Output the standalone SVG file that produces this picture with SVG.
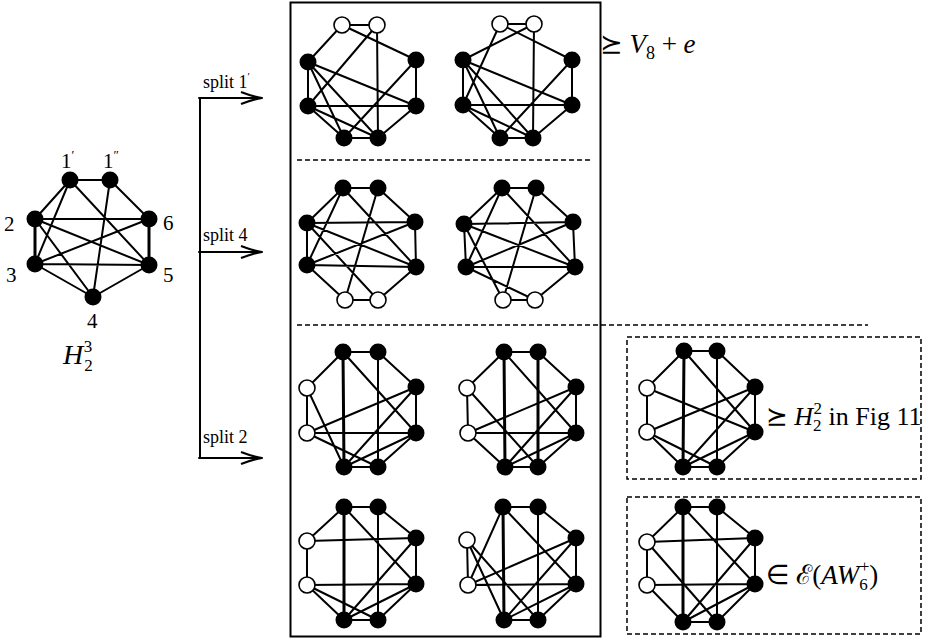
<svg xmlns="http://www.w3.org/2000/svg" width="929" height="641" viewBox="0 0 929 641">
<defs>
<style>
.e{stroke:#000;stroke-width:2;fill:none;stroke-linecap:round}
.k{stroke-width:3}
.b{fill:#000}
.w{fill:#fff;stroke:#000;stroke-width:1.6}
text{font-family:"Liberation Serif","DejaVu Serif",serif;fill:#000}
.lab{font-size:21px}
.sm{font-size:18px}
.rel{font-family:"DejaVu Sans",sans-serif}
.dash{stroke:#000;stroke-width:1.5;fill:none;stroke-dasharray:5 3}
.ah{stroke:#000;stroke-width:2;fill:none}
</style>
<marker id="arr" markerUnits="userSpaceOnUse" markerWidth="30" markerHeight="16" refX="26" refY="8" orient="auto" overflow="visible">
<path class="ah" d="M5,2 Q18,7 26,8 Q18,9 5,14"/>
</marker>
</defs>
<rect width="929" height="641" fill="#fff"/>

<g id="H23">
<path class="e" d="M70,180L110,180M70,180L35,219M70,180L35,264M70,180L149,265M110,180L149,219M110,180L93,297M35,219L149,219M35,219L149,265M35,219L93,297M35,264L149,219M35,264L149,265M35,264L93,297M93,297L149,265"/>
<path class="e k" d="M35,219L35,264M149,219L149,265"/>
<g class="b"><circle cx="70" cy="180" r="8.5"/><circle cx="110" cy="180" r="8.5"/><circle cx="35" cy="219" r="8.5"/><circle cx="149" cy="219" r="8.5"/><circle cx="35" cy="264" r="8.5"/><circle cx="149" cy="265" r="8.5"/><circle cx="93" cy="297" r="8.5"/></g>
<text class="lab" x="61" y="168">1<tspan font-size="13" dy="-9">′</tspan></text>
<text class="lab" x="103" y="168">1<tspan font-size="13" dy="-9">″</tspan></text>
<text class="lab" x="4" y="231">2</text>
<text class="lab" x="163" y="230">6</text>
<text class="lab" x="6" y="282">3</text>
<text class="lab" x="163" y="282">5</text>
<text class="lab" x="87" y="328">4</text>
<text x="63" y="364" font-size="28" font-style="italic">H<tspan font-size="17" font-style="normal" dx="1" dy="7">2</tspan><tspan font-size="17" font-style="normal" dx="-9" dy="-19">3</tspan></text>
</g>

<g id="connectors">
<path class="e" d="M200,98L200,458" stroke-linecap="butt"/>
<path class="e" d="M199,98L262,98" marker-end="url(#arr)"/>
<path class="e" d="M199,252L262,252" marker-end="url(#arr)"/>
<path class="e" d="M199,458L262,458" marker-end="url(#arr)"/>
</g>
<g id="arrow-labels">
<text class="sm" x="203" y="88">split 1<tspan font-size="11" dy="-8">′</tspan></text>
<text class="sm" x="203" y="241">split 4</text>
<text class="sm" x="203" y="443">split 2</text>
</g>

<rect x="290.5" y="2.5" width="310" height="634" fill="none" stroke="#000" stroke-width="2"/>
<path class="dash" d="M297,160H590"/>
<path class="dash" d="M297,325H868"/>
<rect class="dash" x="627" y="337" width="294" height="142"/>
<rect class="dash" x="627" y="497" width="294" height="137"/>

<g id="g1">
<path class="e" d="M342,25L377,25M342,25L308,62M342,25L416,60M377,25L308,106M377,25L378,138M308,62L308,106M308,62L416,106M308,62L344,138M308,62L378,138M308,106L416,106M308,106L344,138M308,106L378,138M416,60L416,106M416,60L344,138M416,106L378,138M344,138L378,138"/>
<g class="b"><circle cx="308" cy="62" r="8.5"/><circle cx="416" cy="60" r="8.5"/><circle cx="308" cy="106" r="8.5"/><circle cx="416" cy="106" r="8.5"/><circle cx="344" cy="138" r="8.5"/><circle cx="378" cy="138" r="8.5"/></g>
<circle class="w" cx="342" cy="25" r="8"/><circle class="w" cx="377" cy="25" r="8"/>
</g>

<g id="g2">
<path class="e" d="M500,24L534,24M500,24L463,105M500,24L572,60M534,24L463,60M534,24L533,138M463,60L463,105M463,60L572,105M463,60L500,138M463,60L533,138M463,105L572,105M463,105L500,138M463,105L533,138M572,60L572,105M572,60L500,138M572,105L533,138M500,138L533,138"/>
<g class="b"><circle cx="463" cy="60" r="8.5"/><circle cx="572" cy="60" r="8.5"/><circle cx="463" cy="105" r="8.5"/><circle cx="572" cy="105" r="8.5"/><circle cx="500" cy="138" r="8.5"/><circle cx="533" cy="138" r="8.5"/></g>
<circle class="w" cx="500" cy="24" r="8"/><circle class="w" cx="534" cy="24" r="8"/>
</g>

<text x="600" y="53" font-size="27"><tspan class="rel">⪰</tspan> <tspan font-style="italic">V</tspan><tspan font-size="18" dy="6">8</tspan><tspan dy="-6"> + </tspan><tspan font-style="italic">e</tspan></text>

<g id="g3">
<path class="e" d="M343,188L378,188M343,188L307,223M343,188L307,265M343,188L416,267M378,188L415,222M378,188L345,300M307,223L415,222M307,223L307,265M307,223L416,267M307,223L378,300M307,265L415,222M307,265L416,267M307,265L345,300M415,222L416,267M416,267L378,300M345,300L378,300"/>
<g class="b"><circle cx="343" cy="188" r="8.5"/><circle cx="378" cy="188" r="8.5"/><circle cx="307" cy="223" r="8.5"/><circle cx="415" cy="222" r="8.5"/><circle cx="307" cy="265" r="8.5"/><circle cx="416" cy="267" r="8.5"/></g>
<circle class="w" cx="345" cy="300" r="8"/><circle class="w" cx="378" cy="300" r="8"/>
</g>

<g id="g4">
<path class="e" d="M502,188L536,188M502,188L464,224M502,188L466,267M502,188L575,267M536,188L573,222M536,188L503,300M464,224L573,222M464,224L466,267M464,224L575,267M464,224L503,300M466,267L573,222M466,267L575,267M466,267L535,300M573,222L575,267M575,267L535,300M503,300L535,300"/>
<g class="b"><circle cx="502" cy="188" r="8.5"/><circle cx="536" cy="188" r="8.5"/><circle cx="464" cy="224" r="8.5"/><circle cx="573" cy="222" r="8.5"/><circle cx="466" cy="267" r="8.5"/><circle cx="575" cy="267" r="8.5"/></g>
<circle class="w" cx="503" cy="300" r="8"/><circle class="w" cx="535" cy="300" r="8"/>
</g>

<g id="g5">
<path class="e" d="M343,352L378,352M343,352L307,388M343,352L416,433M378,352L416,387M378,352L378,467M307,388L307,433M307,388L344,467M307,433L416,387M307,433L416,433M307,433L378,467M416,387L416,433M416,387L344,467M416,433L344,467M416,433L378,467M344,467L378,467"/>
<path class="e k" d="M343,352L344,467"/>
<g class="b"><circle cx="343" cy="352" r="8.5"/><circle cx="378" cy="352" r="8.5"/><circle cx="416" cy="387" r="8.5"/><circle cx="416" cy="433" r="8.5"/><circle cx="344" cy="467" r="8.5"/><circle cx="378" cy="467" r="8.5"/></g>
<circle class="w" cx="307" cy="388" r="8"/><circle class="w" cx="307" cy="433" r="8"/>
</g>

<g id="g6">
<path class="e" d="M504,352L538,352M504,352L467,388M504,352L576,433M538,352L576,387M467,388L468,433M467,388L538,467M468,433L576,387M468,433L576,433M468,433L505,467M576,387L576,433M576,387L505,467M576,433L505,467M576,433L538,467M505,467L538,467"/>
<path class="e k" d="M504,352L505,467M538,352L538,467"/>
<g class="b"><circle cx="504" cy="352" r="8.5"/><circle cx="538" cy="352" r="8.5"/><circle cx="576" cy="387" r="8.5"/><circle cx="576" cy="433" r="8.5"/><circle cx="505" cy="467" r="8.5"/><circle cx="538" cy="467" r="8.5"/></g>
<circle class="w" cx="467" cy="388" r="8"/><circle class="w" cx="468" cy="433" r="8"/>
</g>

<g id="g7">
<path class="e" d="M344,507L378,507M344,507L307,541M344,507L416,584M378,507L416,538M378,507L378,620M307,541L416,538M307,541L307,585M307,585L416,584M307,585L344,620M307,585L378,620M416,538L416,584M416,538L344,620M416,584L344,620M416,584L378,620M344,620L378,620"/>
<path class="e k" d="M344,507L344,620"/>
<g class="b"><circle cx="344" cy="507" r="8.5"/><circle cx="378" cy="507" r="8.5"/><circle cx="416" cy="538" r="8.5"/><circle cx="416" cy="584" r="8.5"/><circle cx="344" cy="620" r="8.5"/><circle cx="378" cy="620" r="8.5"/></g>
<circle class="w" cx="307" cy="541" r="8"/><circle class="w" cx="307" cy="585" r="8"/>
</g>

<g id="g8">
<path class="e" d="M503,507L538,507M503,507L468,585M503,507L576,584M538,507L576,538M538,507L538,620M467,540L468,585M467,540L504,620M467,540L538,620M468,585L576,538M468,585L576,584M576,538L576,584M576,538L504,620M576,584L504,620M576,584L538,620M504,620L538,620"/>
<path class="e k" d="M503,507L504,620"/>
<g class="b"><circle cx="503" cy="507" r="8.5"/><circle cx="538" cy="507" r="8.5"/><circle cx="576" cy="538" r="8.5"/><circle cx="576" cy="584" r="8.5"/><circle cx="504" cy="620" r="8.5"/><circle cx="538" cy="620" r="8.5"/></g>
<circle class="w" cx="467" cy="540" r="8"/><circle class="w" cx="468" cy="585" r="8"/>
</g>

<g id="g9">
<path class="e" d="M684,351L717,351M684,351L647,388M684,351L755,432M717,351L755,387M717,351L717,467M647,388L647,432M647,388L755,432M647,432L755,387M647,432L683,467M647,432L717,467M755,387L755,432M755,387L683,467M755,432L683,467M755,432L717,467M683,467L717,467"/>
<path class="e k" d="M684,351L683,467"/>
<g class="b"><circle cx="684" cy="351" r="8.5"/><circle cx="717" cy="351" r="8.5"/><circle cx="755" cy="387" r="8.5"/><circle cx="755" cy="432" r="8.5"/><circle cx="683" cy="467" r="8.5"/><circle cx="717" cy="467" r="8.5"/></g>
<circle class="w" cx="647" cy="388" r="8"/><circle class="w" cx="647" cy="432" r="8"/>
</g>
<text x="766" y="425" font-size="26"><tspan class="rel">⪰</tspan> <tspan font-style="italic">H</tspan><tspan font-size="17" dy="6">2</tspan><tspan font-size="17" dx="-8" dy="-17">2</tspan><tspan dy="11"> in Fig 11</tspan></text>

<g id="g10">
<path class="e" d="M683,507L717,507M683,507L647,542M683,507L755,584M717,507L755,538M717,507L717,622M647,542L755,538M647,542L647,585M647,542L717,622M647,585L755,584M647,585L683,622M755,538L755,584M755,538L683,622M755,584L683,622M755,584L717,622M683,622L717,622"/>
<path class="e k" d="M683,507L683,622"/>
<g class="b"><circle cx="683" cy="507" r="8.5"/><circle cx="717" cy="507" r="8.5"/><circle cx="755" cy="538" r="8.5"/><circle cx="755" cy="584" r="8.5"/><circle cx="683" cy="622" r="8.5"/><circle cx="717" cy="622" r="8.5"/></g>
<circle class="w" cx="647" cy="542" r="8"/><circle class="w" cx="647" cy="585" r="8"/>
</g>
<text x="766" y="584" font-size="27"><tspan class="rel">∈</tspan> ℰ(<tspan font-style="italic">AW</tspan><tspan font-size="17" dy="6">6</tspan><tspan font-size="17" dx="-8" dy="-18">+</tspan><tspan dy="12">)</tspan></text>
</svg>
